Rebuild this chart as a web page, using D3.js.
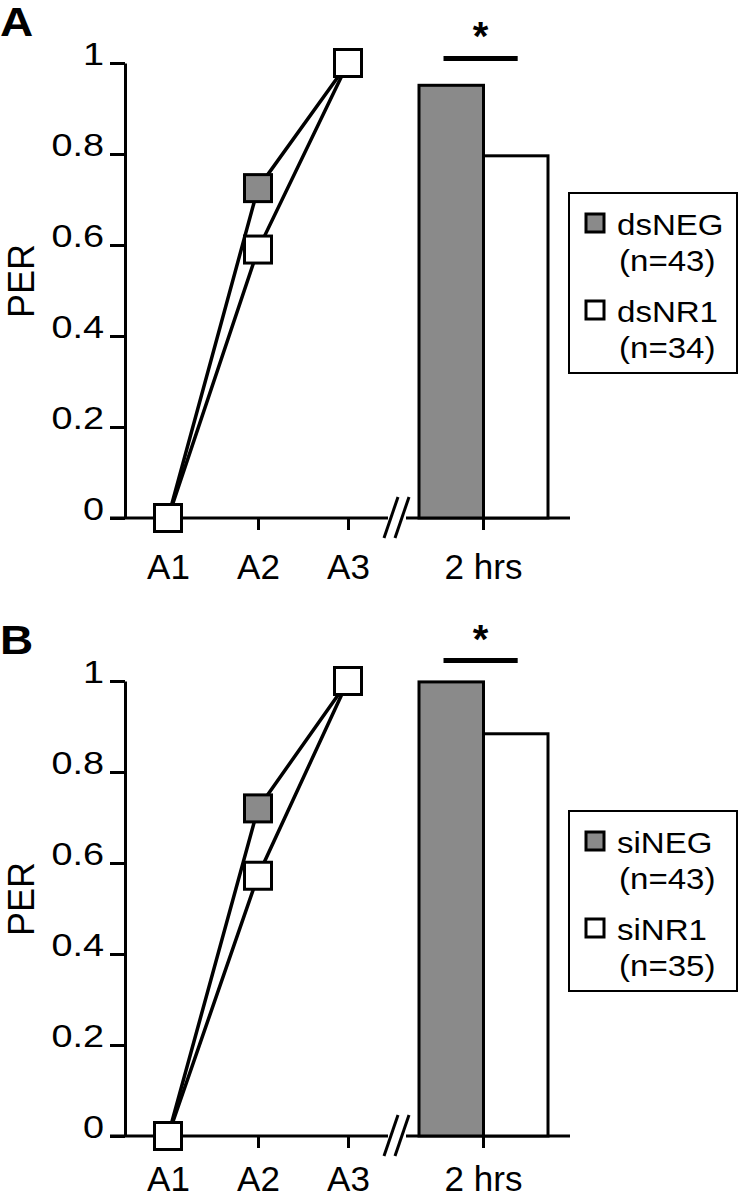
<!DOCTYPE html>
<html>
<head>
<meta charset="utf-8">
<script src="https://cdn.jsdelivr.net/npm/d3@7"></script>
<style>
  html, body { margin: 0; padding: 0; background: #fff; }
  svg { display: block; font-family: "Liberation Sans", Arial, sans-serif; }
</style>
</head>
<body>
<svg id="chart" width="739" height="1199"></svg>
<script>
// ---------- data ----------
const trials = ["A1", "A2", "A3"];
const barCategory = ["2 hrs"];
const yTickValues = [0, 0.2, 0.4, 0.6, 0.8, 1];
const yTickLabels = ["0", "0.2", "0.4", "0.6", "0.8", "1"];

const panelLabels = ["A", "B"];
const groupsA = ["dsNEG", "dsNR1"];
const groupsB = ["siNEG", "siNR1"];
const nA = ["(n=43)", "(n=34)"];
const nB = ["(n=43)", "(n=35)"];

const negLineA = [0, 0.725, 1];
const nr1LineA = [0, 0.59, 1];
const barsA = [0.951, 0.796];

const negLineB = [0, 0.72, 1];
const nr1LineB = [0, 0.572, 1];
const barsB = [0.998, 0.884];

const sigLevel = [1.01, 1.045];
const sigMark = "*";

// ---------- drawing ----------
const svg = d3.select("#chart");
const GRAY = "#8a8a8a";
const SW = 3;

const panels = [
  { label: panelLabels[0], off: 0, groups: groupsA, ns: nA, neg: negLineA, nr1: nr1LineA, bars: barsA, sig: sigLevel[0] },
  { label: panelLabels[1], off: 618, groups: groupsB, ns: nB, neg: negLineB, nr1: nr1LineB, bars: barsB, sig: sigLevel[1] }
];

panels.forEach(p => {
  const g = svg.append("g");
  const y = d3.scaleLinear().domain([0, 1]).range([518 + p.off, 63 + p.off]);
  const x = d3.scalePoint().domain(trials).range([168, 348]);
  const xCat = d3.scaleBand().domain(barCategory).range([419, 548]);
  const xb = d3.scaleBand().domain(p.groups).range([419, 548]).padding(0);
  const y0 = y(0);

  // panel label
  g.append("text")
    .attr("transform", `translate(0,${36 + p.off}) scale(1.15,1)`)
    .attr("font-size", 40).attr("font-weight", "bold")
    .text(p.label);

  // y axis label
  g.append("text")
    .attr("transform", `translate(33.5,${281 + p.off}) rotate(-90)`)
    .attr("text-anchor", "middle")
    .attr("font-size", 36)
    .text("PER");

  // y axis
  const yAxis = g.append("g")
    .attr("transform", "translate(125,0)")
    .call(d3.axisLeft(y).tickValues(yTickValues).tickSize(15).tickSizeOuter(0)
      .tickFormat((d, i) => yTickLabels[i]));
  yAxis.select(".domain").attr("stroke-width", SW).attr("stroke", "#000");
  yAxis.selectAll(".tick line").attr("stroke-width", SW).attr("stroke", "#000");
  yAxis.selectAll(".tick text")
    .attr("x", null).attr("dy", null)
    .attr("transform", "translate(-21,1) scale(1.22,1)")
    .attr("text-anchor", "end")
    .attr("font-size", 31)
    .attr("fill", "#000");

  // x axis baseline with break
  g.append("line").attr("x1", 110).attr("x2", 388).attr("y1", y0).attr("y2", y0)
    .attr("stroke", "#000").attr("stroke-width", SW);
  g.append("line").attr("x1", 406).attr("x2", 570).attr("y1", y0).attr("y2", y0)
    .attr("stroke", "#000").attr("stroke-width", SW);
  [0, 11].forEach(dx => {
    g.append("line")
      .attr("x1", 384 + dx).attr("y1", y0 + 20)
      .attr("x2", 398 + dx).attr("y2", y0 - 21)
      .attr("stroke", "#000").attr("stroke-width", SW);
  });

  // x axes (ticks + labels)
  const labelY = Math.min(61, 1199 - 8 - y0);
  const styleX = sel => {
    sel.select(".domain").remove();
    sel.selectAll(".tick line").attr("stroke-width", SW).attr("stroke", "#000");
    sel.selectAll(".tick text")
      .attr("y", labelY).attr("dy", null)
      .attr("font-size", 35).attr("fill", "#000");
  };
  g.append("g").attr("transform", `translate(0,${y0})`)
    .call(d3.axisBottom(x).tickSize(12).tickSizeOuter(0)).call(styleX);
  g.append("g").attr("transform", `translate(0,${y0})`)
    .call(d3.axisBottom(xCat).tickSize(12).tickSizeOuter(0)).call(styleX);

  // bars
  g.selectAll("rect.bar").data(p.bars).join("rect")
    .attr("class", "bar")
    .attr("x", (d, i) => xb(p.groups[i]))
    .attr("width", xb.bandwidth())
    .attr("y", d => y(d))
    .attr("height", d => y0 - y(d))
    .attr("fill", (d, i) => i === 0 ? GRAY : "#fff")
    .attr("stroke", "#000").attr("stroke-width", SW);

  // significance
  const sx0 = xb(p.groups[0]) + xb.bandwidth() * 0.38;
  const sx1 = xb(p.groups[1]) + xb.bandwidth() * 0.53;
  g.append("line").attr("x1", sx0).attr("x2", sx1)
    .attr("y1", y(p.sig)).attr("y2", y(p.sig))
    .attr("stroke", "#000").attr("stroke-width", 5);
  g.append("text")
    .attr("x", (sx0 + sx1) / 2).attr("y", y(p.sig) - 8)
    .attr("text-anchor", "middle")
    .attr("font-size", 40).attr("font-weight", "bold")
    .text(sigMark);

  // lines
  const line = d3.line().x((d, i) => x(trials[i])).y(d => y(d));
  [p.neg, p.nr1].forEach(series => {
    g.append("path").datum(series)
      .attr("d", line).attr("fill", "none")
      .attr("stroke", "#000").attr("stroke-width", 3.5);
  });

  // markers
  const S = 27;
  [[p.neg, GRAY], [p.nr1, "#fff"]].forEach(([series, fill]) => {
    g.selectAll(null).data(series).join("rect")
      .attr("x", (d, i) => x(trials[i]) - S / 2)
      .attr("y", d => y(d) - S / 2)
      .attr("width", S).attr("height", S)
      .attr("fill", fill).attr("stroke", "#000").attr("stroke-width", SW);
  });

  // legend
  const lx = 569, ly = 193 + p.off;
  g.append("rect").attr("x", lx).attr("y", ly).attr("width", 168).attr("height", 180)
    .attr("fill", "#fff").attr("stroke", "#000").attr("stroke-width", 2);
  p.groups.forEach((name, i) => {
    const by = ly + 42 + i * 87;
    g.append("rect").attr("x", 586).attr("y", by - 21).attr("width", 18).attr("height", 18)
      .attr("fill", i === 0 ? GRAY : "#fff").attr("stroke", "#000").attr("stroke-width", SW);
    g.append("text")
      .attr("transform", `translate(617,${by}) scale(1.14,1)`)
      .attr("font-size", 29).text(name);
    g.append("text")
      .attr("transform", `translate(619,${by + 36}) scale(1.14,1)`)
      .attr("font-size", 29).text(p.ns[i]);
  });
});
</script>
</body>
</html>
